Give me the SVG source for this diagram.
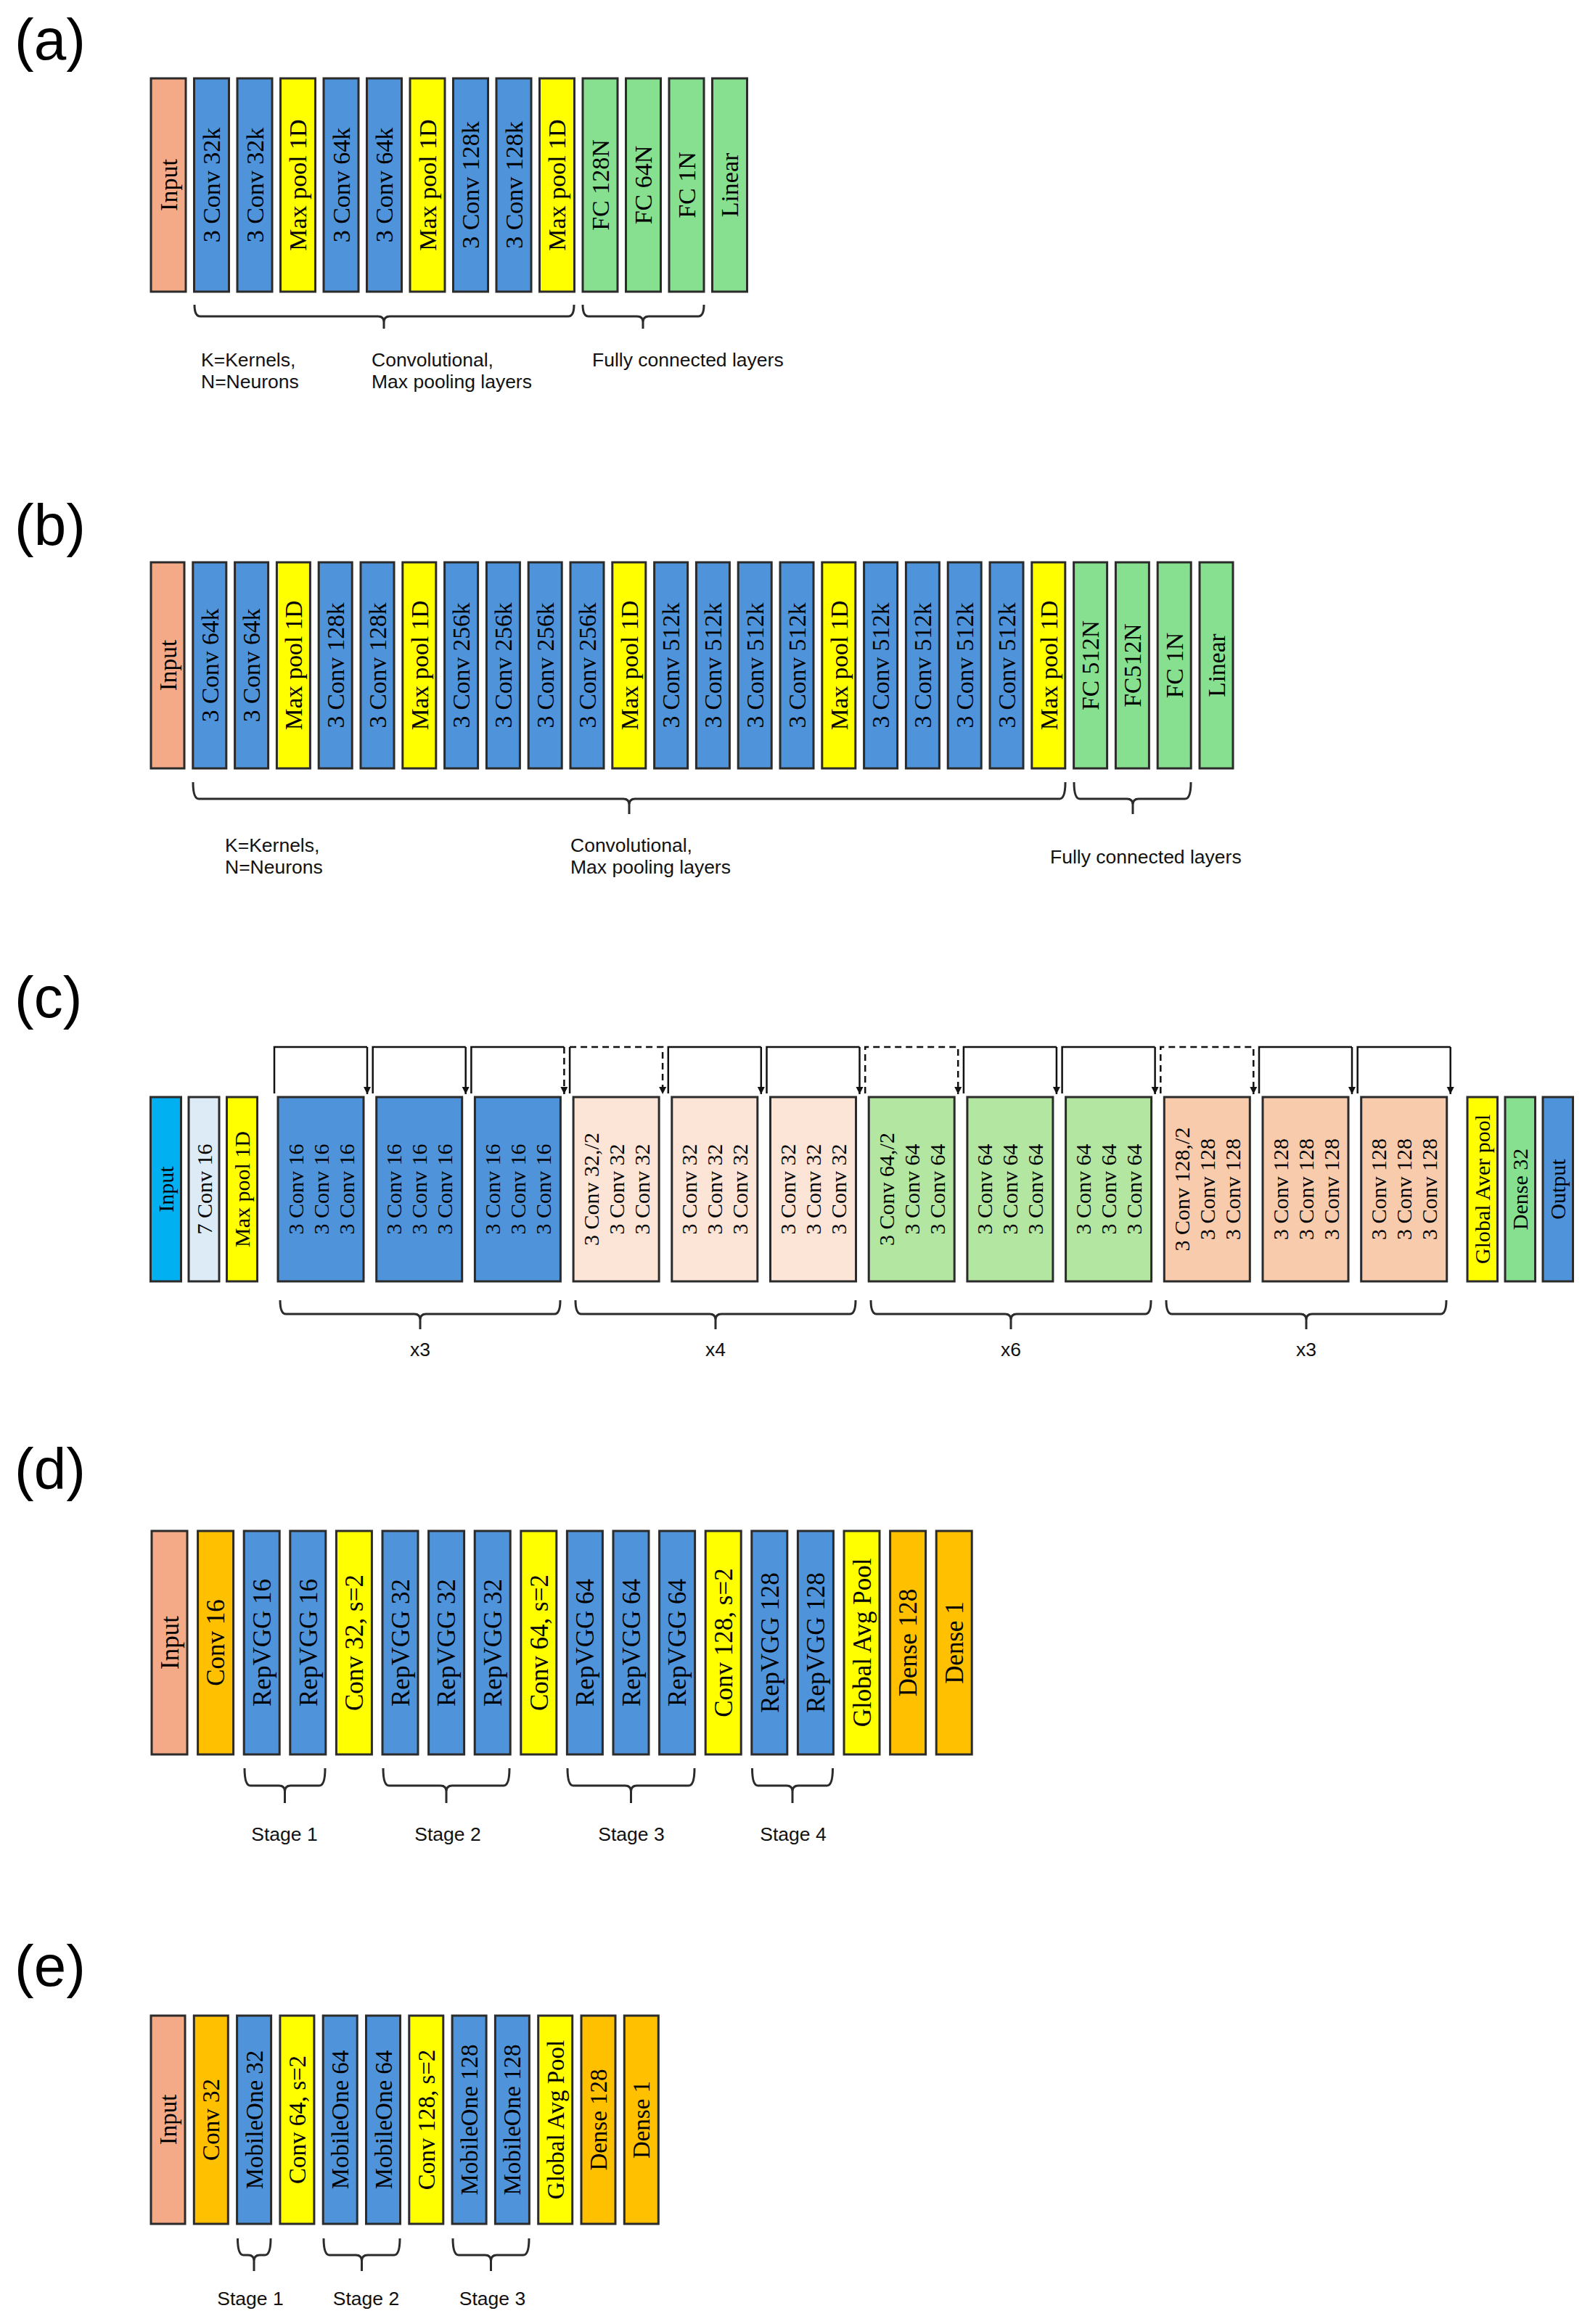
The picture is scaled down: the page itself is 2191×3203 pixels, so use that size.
<svg xmlns="http://www.w3.org/2000/svg" width="2191" height="3203" viewBox="0 0 2191 3203">
<style>
.bx{stroke:#2b2b2b;stroke-width:3}
.sal{fill:#F4A987}.blu{fill:#4F94DA}.yel{fill:#FFFF00}.grn{fill:#86E08F}.org{fill:#FFC000}
.cya{fill:#00B0F0}.lbl{fill:#DDEBF7}.pch{fill:#FCE4D6}.lgr{fill:#B3E6A1}.lsa{fill:#F8CBAD}
.t{font-family:"Liberation Serif","Times New Roman",serif;fill:#000;text-anchor:middle}
.ta{font-size:34px}.tb{font-size:33.5px}.tc{font-size:30px}.td{font-size:35px}.te{font-size:33px}
.ann{font-family:"Liberation Sans",Arial,sans-serif;font-size:26.5px;fill:#111}
.mid{text-anchor:middle}
.pl{font-family:"Liberation Sans",Arial,sans-serif;font-size:80px;fill:#000}
.br{fill:none;stroke:#2b2b2b;stroke-width:3}
.sk{fill:none;stroke:#111;stroke-width:2.5}
.ds{stroke-dasharray:9 6}
</style>
<defs>
<marker id="ah" markerUnits="userSpaceOnUse" markerWidth="11" markerHeight="11" refX="10" refY="5" orient="auto">
<path d="M0,0 L10,5 L0,10 z" fill="#111"/>
</marker>
</defs>

<!-- Panel labels -->
<text class="pl" x="20" y="82">(a)</text>
<text class="pl" x="20" y="751">(b)</text>
<text class="pl" x="20" y="1402">(c)</text>
<text class="pl" x="20" y="2052">(d)</text>
<text class="pl" x="20" y="2737">(e)</text>

<!-- ===== Panel (a) ===== -->
<g id="a-nodes">
<g id="a0"><rect class="bx sal" x="208" y="108" width="48" height="294"/><text class="t ta" transform="translate(232,255) rotate(-90)" dy="0.35em">Input</text></g>
<g id="a1"><rect class="bx blu" x="267.5" y="108" width="48" height="294"/><text class="t ta" transform="translate(291.5,255) rotate(-90)" dy="0.35em">3 Conv 32k</text></g>
<g id="a2"><rect class="bx blu" x="327" y="108" width="48" height="294"/><text class="t ta" transform="translate(351,255) rotate(-90)" dy="0.35em">3 Conv 32k</text></g>
<g id="a3"><rect class="bx yel" x="386.5" y="108" width="48" height="294"/><text class="t ta" transform="translate(410.5,255) rotate(-90)" dy="0.35em">Max pool 1D</text></g>
<g id="a4"><rect class="bx blu" x="446" y="108" width="48" height="294"/><text class="t ta" transform="translate(470,255) rotate(-90)" dy="0.35em">3 Conv 64k</text></g>
<g id="a5"><rect class="bx blu" x="505.5" y="108" width="48" height="294"/><text class="t ta" transform="translate(529.5,255) rotate(-90)" dy="0.35em">3 Conv 64k</text></g>
<g id="a6"><rect class="bx yel" x="565" y="108" width="48" height="294"/><text class="t ta" transform="translate(589,255) rotate(-90)" dy="0.35em">Max pool 1D</text></g>
<g id="a7"><rect class="bx blu" x="624.5" y="108" width="48" height="294"/><text class="t ta" transform="translate(648.5,255) rotate(-90)" dy="0.35em">3 Conv 128k</text></g>
<g id="a8"><rect class="bx blu" x="684" y="108" width="48" height="294"/><text class="t ta" transform="translate(708,255) rotate(-90)" dy="0.35em">3 Conv 128k</text></g>
<g id="a9"><rect class="bx yel" x="743.5" y="108" width="48" height="294"/><text class="t ta" transform="translate(767.5,255) rotate(-90)" dy="0.35em">Max pool 1D</text></g>
<g id="a10"><rect class="bx grn" x="803" y="108" width="48" height="294"/><text class="t ta" transform="translate(827,255) rotate(-90)" dy="0.35em">FC 128N</text></g>
<g id="a11"><rect class="bx grn" x="862.5" y="108" width="48" height="294"/><text class="t ta" transform="translate(886.5,255) rotate(-90)" dy="0.35em">FC 64N</text></g>
<g id="a12"><rect class="bx grn" x="922" y="108" width="48" height="294"/><text class="t ta" transform="translate(946,255) rotate(-90)" dy="0.35em">FC 1N</text></g>
<g id="a13"><rect class="bx grn" x="981.5" y="108" width="48" height="294"/><text class="t ta" transform="translate(1005.5,255) rotate(-90)" dy="0.35em">Linear</text></g>
</g>
<g id="a-connectors">
<path class="br" d="M268,420 Q268,436 276,436 L521,436 Q529,436 529,444 L529,453 M529,444 Q529,436 537,436 L783,436 Q791,436 791,420"/>
<path class="br" d="M803,420 Q803,436 811,436 L878,436 Q886,436 886,444 L886,453 M886,444 Q886,436 894,436 L962,436 Q970,436 970,420"/>
</g>
<g id="a-text">
<text class="ann" x="277" y="505">K=Kernels,</text>
<text class="ann" x="277" y="535">N=Neurons</text>
<text class="ann" x="512" y="505">Convolutional,</text>
<text class="ann" x="512" y="535">Max pooling layers</text>
<text class="ann" x="816" y="505">Fully connected layers</text>
</g>

<!-- ===== Panel (b) ===== -->
<g id="b-nodes">
<g id="b0"><rect class="bx sal" x="208" y="775" width="46" height="284"/><text class="t tb" transform="translate(231,917) rotate(-90)" dy="0.35em">Input</text></g>
<g id="b1"><rect class="bx blu" x="265.8" y="775" width="46" height="284"/><text class="t tb" transform="translate(288.8,917) rotate(-90)" dy="0.35em">3 Conv 64k</text></g>
<g id="b2"><rect class="bx blu" x="323.6" y="775" width="46" height="284"/><text class="t tb" transform="translate(346.6,917) rotate(-90)" dy="0.35em">3 Conv 64k</text></g>
<g id="b3"><rect class="bx yel" x="381.4" y="775" width="46" height="284"/><text class="t tb" transform="translate(404.4,917) rotate(-90)" dy="0.35em">Max pool 1D</text></g>
<g id="b4"><rect class="bx blu" x="439.2" y="775" width="46" height="284"/><text class="t tb" transform="translate(462.2,917) rotate(-90)" dy="0.35em">3 Conv 128k</text></g>
<g id="b5"><rect class="bx blu" x="497" y="775" width="46" height="284"/><text class="t tb" transform="translate(520,917) rotate(-90)" dy="0.35em">3 Conv 128k</text></g>
<g id="b6"><rect class="bx yel" x="554.8" y="775" width="46" height="284"/><text class="t tb" transform="translate(577.8,917) rotate(-90)" dy="0.35em">Max pool 1D</text></g>
<g id="b7"><rect class="bx blu" x="612.6" y="775" width="46" height="284"/><text class="t tb" transform="translate(635.6,917) rotate(-90)" dy="0.35em">3 Conv 256k</text></g>
<g id="b8"><rect class="bx blu" x="670.4" y="775" width="46" height="284"/><text class="t tb" transform="translate(693.4,917) rotate(-90)" dy="0.35em">3 Conv 256k</text></g>
<g id="b9"><rect class="bx blu" x="728.2" y="775" width="46" height="284"/><text class="t tb" transform="translate(751.2,917) rotate(-90)" dy="0.35em">3 Conv 256k</text></g>
<g id="b10"><rect class="bx blu" x="786" y="775" width="46" height="284"/><text class="t tb" transform="translate(809,917) rotate(-90)" dy="0.35em">3 Conv 256k</text></g>
<g id="b11"><rect class="bx yel" x="843.8" y="775" width="46" height="284"/><text class="t tb" transform="translate(866.8,917) rotate(-90)" dy="0.35em">Max pool 1D</text></g>
<g id="b12"><rect class="bx blu" x="901.6" y="775" width="46" height="284"/><text class="t tb" transform="translate(924.6,917) rotate(-90)" dy="0.35em">3 Conv 512k</text></g>
<g id="b13"><rect class="bx blu" x="959.4" y="775" width="46" height="284"/><text class="t tb" transform="translate(982.4,917) rotate(-90)" dy="0.35em">3 Conv 512k</text></g>
<g id="b14"><rect class="bx blu" x="1017.2" y="775" width="46" height="284"/><text class="t tb" transform="translate(1040.2,917) rotate(-90)" dy="0.35em">3 Conv 512k</text></g>
<g id="b15"><rect class="bx blu" x="1075" y="775" width="46" height="284"/><text class="t tb" transform="translate(1098,917) rotate(-90)" dy="0.35em">3 Conv 512k</text></g>
<g id="b16"><rect class="bx yel" x="1132.8" y="775" width="46" height="284"/><text class="t tb" transform="translate(1155.8,917) rotate(-90)" dy="0.35em">Max pool 1D</text></g>
<g id="b17"><rect class="bx blu" x="1190.6" y="775" width="46" height="284"/><text class="t tb" transform="translate(1213.6,917) rotate(-90)" dy="0.35em">3 Conv 512k</text></g>
<g id="b18"><rect class="bx blu" x="1248.4" y="775" width="46" height="284"/><text class="t tb" transform="translate(1271.4,917) rotate(-90)" dy="0.35em">3 Conv 512k</text></g>
<g id="b19"><rect class="bx blu" x="1306.2" y="775" width="46" height="284"/><text class="t tb" transform="translate(1329.2,917) rotate(-90)" dy="0.35em">3 Conv 512k</text></g>
<g id="b20"><rect class="bx blu" x="1364" y="775" width="46" height="284"/><text class="t tb" transform="translate(1387,917) rotate(-90)" dy="0.35em">3 Conv 512k</text></g>
<g id="b21"><rect class="bx yel" x="1421.8" y="775" width="46" height="284"/><text class="t tb" transform="translate(1444.8,917) rotate(-90)" dy="0.35em">Max pool 1D</text></g>
<g id="b22"><rect class="bx grn" x="1479.6" y="775" width="46" height="284"/><text class="t tb" transform="translate(1502.6,917) rotate(-90)" dy="0.35em">FC 512N</text></g>
<g id="b23"><rect class="bx grn" x="1537.4" y="775" width="46" height="284"/><text class="t tb" transform="translate(1560.4,917) rotate(-90)" dy="0.35em">FC512N</text></g>
<g id="b24"><rect class="bx grn" x="1595.2" y="775" width="46" height="284"/><text class="t tb" transform="translate(1618.2,917) rotate(-90)" dy="0.35em">FC 1N</text></g>
<g id="b25"><rect class="bx grn" x="1653" y="775" width="46" height="284"/><text class="t tb" transform="translate(1676,917) rotate(-90)" dy="0.35em">Linear</text></g>
</g>
<g id="b-connectors">
<path class="br" d="M266,1078 Q266,1101 274,1101 L859,1101 Q867,1101 867,1109 L867,1122 M867,1109 Q867,1101 875,1101 L1460,1101 Q1468,1101 1468,1078"/>
<path class="br" d="M1480,1078 Q1480,1101 1488,1101 L1553,1101 Q1561,1101 1561,1109 L1561,1122 M1561,1109 Q1561,1101 1569,1101 L1633,1101 Q1641,1101 1641,1078"/>
</g>
<g id="b-text">
<text class="ann" x="310" y="1174">K=Kernels,</text>
<text class="ann" x="310" y="1204">N=Neurons</text>
<text class="ann" x="786" y="1174">Convolutional,</text>
<text class="ann" x="786" y="1204">Max pooling layers</text>
<text class="ann" x="1447" y="1190">Fully connected layers</text>
</g>

<!-- ===== Panel (c) ===== -->
<g id="c-nodes">
<g id="c-in"><rect class="bx cya" x="207.5" y="1512" width="42" height="254"/><text class="t tc" transform="translate(228.5,1639) rotate(-90)" dy="0.35em">Input</text></g>
<g id="c-conv7"><rect class="bx lbl" x="260" y="1512" width="42" height="254"/><text class="t tc" transform="translate(281,1639) rotate(-90)" dy="0.35em">7 Conv 16</text></g>
<g id="c-pool"><rect class="bx yel" x="312.5" y="1512" width="42" height="254"/><text class="t tc" transform="translate(333.5,1639) rotate(-90)" dy="0.35em">Max pool 1D</text></g>

<g id="c0"><rect class="bx blu" x="383" y="1512" width="118" height="254"/><text class="t tc" transform="translate(442,1639) rotate(-90)"><tspan x="0" y="-35" dy="0.35em">3 Conv 16</tspan><tspan x="0" y="0" dy="0.35em">3 Conv 16</tspan><tspan x="0" y="35" dy="0.35em">3 Conv 16</tspan></text></g>
<g id="c1"><rect class="bx blu" x="518.7" y="1512" width="118" height="254"/><text class="t tc" transform="translate(577.7,1639) rotate(-90)"><tspan x="0" y="-35" dy="0.35em">3 Conv 16</tspan><tspan x="0" y="0" dy="0.35em">3 Conv 16</tspan><tspan x="0" y="35" dy="0.35em">3 Conv 16</tspan></text></g>
<g id="c2"><rect class="bx blu" x="654.4" y="1512" width="118" height="254"/><text class="t tc" transform="translate(713.4,1639) rotate(-90)"><tspan x="0" y="-35" dy="0.35em">3 Conv 16</tspan><tspan x="0" y="0" dy="0.35em">3 Conv 16</tspan><tspan x="0" y="35" dy="0.35em">3 Conv 16</tspan></text></g>
<g id="c3"><rect class="bx pch" x="790.1" y="1512" width="118" height="254"/><text class="t tc" transform="translate(849.1,1639) rotate(-90)"><tspan x="0" y="-35" dy="0.35em">3 Conv 32,/2</tspan><tspan x="0" y="0" dy="0.35em">3 Conv 32</tspan><tspan x="0" y="35" dy="0.35em">3 Conv 32</tspan></text></g>
<g id="c4"><rect class="bx pch" x="925.8" y="1512" width="118" height="254"/><text class="t tc" transform="translate(984.8,1639) rotate(-90)"><tspan x="0" y="-35" dy="0.35em">3 Conv 32</tspan><tspan x="0" y="0" dy="0.35em">3 Conv 32</tspan><tspan x="0" y="35" dy="0.35em">3 Conv 32</tspan></text></g>
<g id="c5"><rect class="bx pch" x="1061.5" y="1512" width="118" height="254"/><text class="t tc" transform="translate(1120.5,1639) rotate(-90)"><tspan x="0" y="-35" dy="0.35em">3 Conv 32</tspan><tspan x="0" y="0" dy="0.35em">3 Conv 32</tspan><tspan x="0" y="35" dy="0.35em">3 Conv 32</tspan></text></g>
<g id="c6"><rect class="bx lgr" x="1197.2" y="1512" width="118" height="254"/><text class="t tc" transform="translate(1256.2,1639) rotate(-90)"><tspan x="0" y="-35" dy="0.35em">3 Conv 64,/2</tspan><tspan x="0" y="0" dy="0.35em">3 Conv 64</tspan><tspan x="0" y="35" dy="0.35em">3 Conv 64</tspan></text></g>
<g id="c7"><rect class="bx lgr" x="1332.9" y="1512" width="118" height="254"/><text class="t tc" transform="translate(1391.9,1639) rotate(-90)"><tspan x="0" y="-35" dy="0.35em">3 Conv 64</tspan><tspan x="0" y="0" dy="0.35em">3 Conv 64</tspan><tspan x="0" y="35" dy="0.35em">3 Conv 64</tspan></text></g>
<g id="c8"><rect class="bx lgr" x="1468.6" y="1512" width="118" height="254"/><text class="t tc" transform="translate(1527.6,1639) rotate(-90)"><tspan x="0" y="-35" dy="0.35em">3 Conv 64</tspan><tspan x="0" y="0" dy="0.35em">3 Conv 64</tspan><tspan x="0" y="35" dy="0.35em">3 Conv 64</tspan></text></g>
<g id="c9"><rect class="bx lsa" x="1604.3" y="1512" width="118" height="254"/><text class="t tc" transform="translate(1663.3,1639) rotate(-90)"><tspan x="0" y="-35" dy="0.35em">3 Conv 128,/2</tspan><tspan x="0" y="0" dy="0.35em">3 Conv 128</tspan><tspan x="0" y="35" dy="0.35em">3 Conv 128</tspan></text></g>
<g id="c10"><rect class="bx lsa" x="1740" y="1512" width="118" height="254"/><text class="t tc" transform="translate(1799,1639) rotate(-90)"><tspan x="0" y="-35" dy="0.35em">3 Conv 128</tspan><tspan x="0" y="0" dy="0.35em">3 Conv 128</tspan><tspan x="0" y="35" dy="0.35em">3 Conv 128</tspan></text></g>
<g id="c11"><rect class="bx lsa" x="1875.7" y="1512" width="118" height="254"/><text class="t tc" transform="translate(1934.7,1639) rotate(-90)"><tspan x="0" y="-35" dy="0.35em">3 Conv 128</tspan><tspan x="0" y="0" dy="0.35em">3 Conv 128</tspan><tspan x="0" y="35" dy="0.35em">3 Conv 128</tspan></text></g>

<g id="c-gap"><rect class="bx yel" x="2022" y="1512" width="41.5" height="254"/><text class="t tc" transform="translate(2042.75,1639) rotate(-90)" dy="0.35em">Global Aver pool</text></g>
<g id="c-dense"><rect class="bx grn" x="2074" y="1512" width="41.5" height="254"/><text class="t tc" transform="translate(2094.75,1639) rotate(-90)" dy="0.35em">Dense 32</text></g>
<g id="c-out"><rect class="bx blu" x="2126" y="1512" width="41.5" height="254"/><text class="t tc" transform="translate(2146.75,1639) rotate(-90)" dy="0.35em">Output</text></g>
</g>
<g id="c-connectors">
<path class="sk" d="M378,1507 V1443 H506"/><path class="sk" d="M506,1443 V1508" marker-end="url(#ah)"/>
<path class="sk" d="M513.7,1507 V1443 H641.7"/><path class="sk" d="M641.7,1443 V1508" marker-end="url(#ah)"/>
<path class="sk" d="M649.4,1507 V1443 H777.4"/><path class="sk ds" d="M777.4,1443 V1508" marker-end="url(#ah)"/>
<path class="sk" d="M785.1,1507 V1443"/><path class="sk ds" d="M785.1,1443 H913.1 V1508" marker-end="url(#ah)"/>
<path class="sk" d="M920.8,1507 V1443 H1048.8"/><path class="sk" d="M1048.8,1443 V1508" marker-end="url(#ah)"/>
<path class="sk" d="M1056.5,1507 V1443 H1184.5"/><path class="sk" d="M1184.5,1443 V1508" marker-end="url(#ah)"/>
<path class="sk ds" d="M1192.2,1507 V1443 H1320.2 V1508" marker-end="url(#ah)"/>
<path class="sk" d="M1327.9,1507 V1443 H1455.9"/><path class="sk" d="M1455.9,1443 V1508" marker-end="url(#ah)"/>
<path class="sk" d="M1463.6,1507 V1443 H1591.6"/><path class="sk" d="M1591.6,1443 V1508" marker-end="url(#ah)"/>
<path class="sk ds" d="M1599.3,1507 V1443 H1727.3 V1508" marker-end="url(#ah)"/>
<path class="sk" d="M1735,1507 V1443 H1863"/><path class="sk" d="M1863,1443 V1508" marker-end="url(#ah)"/>
<path class="sk" d="M1870.7,1507 V1443 H1998.7"/><path class="sk" d="M1998.7,1443 V1508" marker-end="url(#ah)"/>
<path class="br" d="M386,1792 Q386,1811 394,1811 L571,1811 Q579,1811 579,1819 L579,1832 M579,1819 Q579,1811 587,1811 L764,1811 Q772,1811 772,1792"/>
<path class="br" d="M793,1792 Q793,1811 801,1811 L978,1811 Q986,1811 986,1819 L986,1832 M986,1819 Q986,1811 994,1811 L1171,1811 Q1179,1811 1179,1792"/>
<path class="br" d="M1200,1792 Q1200,1811 1208,1811 L1385,1811 Q1393,1811 1393,1819 L1393,1832 M1393,1819 Q1393,1811 1401,1811 L1578,1811 Q1586,1811 1586,1792"/>
<path class="br" d="M1607,1792 Q1607,1811 1615,1811 L1792,1811 Q1800,1811 1800,1819 L1800,1832 M1800,1819 Q1800,1811 1808,1811 L1985,1811 Q1993,1811 1993,1792"/>
</g>
<g id="c-text">
<text class="ann mid" x="579" y="1869">x3</text>
<text class="ann mid" x="986" y="1869">x4</text>
<text class="ann mid" x="1393" y="1869">x6</text>
<text class="ann mid" x="1800" y="1869">x3</text>
</g>

<!-- ===== Panel (d) ===== -->
<g id="d-nodes">
<g id="d0"><rect class="bx sal" x="209" y="2110" width="49" height="308"/><text class="t td" transform="translate(233.5,2264) rotate(-90)" dy="0.35em">Input</text></g>
<g id="d1"><rect class="bx org" x="272.6" y="2110" width="49" height="308"/><text class="t td" transform="translate(297.1,2264) rotate(-90)" dy="0.35em">Conv 16</text></g>
<g id="d2"><rect class="bx blu" x="336.2" y="2110" width="49" height="308"/><text class="t td" transform="translate(360.7,2264) rotate(-90)" dy="0.35em">RepVGG 16</text></g>
<g id="d3"><rect class="bx blu" x="399.8" y="2110" width="49" height="308"/><text class="t td" transform="translate(424.3,2264) rotate(-90)" dy="0.35em">RepVGG 16</text></g>
<g id="d4"><rect class="bx yel" x="463.4" y="2110" width="49" height="308"/><text class="t td" transform="translate(487.9,2264) rotate(-90)" dy="0.35em">Conv 32, s=2</text></g>
<g id="d5"><rect class="bx blu" x="527" y="2110" width="49" height="308"/><text class="t td" transform="translate(551.5,2264) rotate(-90)" dy="0.35em">RepVGG 32</text></g>
<g id="d6"><rect class="bx blu" x="590.6" y="2110" width="49" height="308"/><text class="t td" transform="translate(615.1,2264) rotate(-90)" dy="0.35em">RepVGG 32</text></g>
<g id="d7"><rect class="bx blu" x="654.2" y="2110" width="49" height="308"/><text class="t td" transform="translate(678.7,2264) rotate(-90)" dy="0.35em">RepVGG 32</text></g>
<g id="d8"><rect class="bx yel" x="717.8" y="2110" width="49" height="308"/><text class="t td" transform="translate(742.3,2264) rotate(-90)" dy="0.35em">Conv 64, s=2</text></g>
<g id="d9"><rect class="bx blu" x="781.4" y="2110" width="49" height="308"/><text class="t td" transform="translate(805.9,2264) rotate(-90)" dy="0.35em">RepVGG 64</text></g>
<g id="d10"><rect class="bx blu" x="845" y="2110" width="49" height="308"/><text class="t td" transform="translate(869.5,2264) rotate(-90)" dy="0.35em">RepVGG 64</text></g>
<g id="d11"><rect class="bx blu" x="908.6" y="2110" width="49" height="308"/><text class="t td" transform="translate(933.1,2264) rotate(-90)" dy="0.35em">RepVGG 64</text></g>
<g id="d12"><rect class="bx yel" x="972.2" y="2110" width="49" height="308"/><text class="t td" transform="translate(996.7,2264) rotate(-90)" dy="0.35em">Conv 128, s=2</text></g>
<g id="d13"><rect class="bx blu" x="1035.8" y="2110" width="49" height="308"/><text class="t td" transform="translate(1060.3,2264) rotate(-90)" dy="0.35em">RepVGG 128</text></g>
<g id="d14"><rect class="bx blu" x="1099.4" y="2110" width="49" height="308"/><text class="t td" transform="translate(1123.9,2264) rotate(-90)" dy="0.35em">RepVGG 128</text></g>
<g id="d15"><rect class="bx yel" x="1163" y="2110" width="49" height="308"/><text class="t td" transform="translate(1187.5,2264) rotate(-90)" dy="0.35em">Global Avg Pool</text></g>
<g id="d16"><rect class="bx org" x="1226.6" y="2110" width="49" height="308"/><text class="t td" transform="translate(1251.1,2264) rotate(-90)" dy="0.35em">Dense 128</text></g>
<g id="d17"><rect class="bx org" x="1290.2" y="2110" width="49" height="308"/><text class="t td" transform="translate(1314.7,2264) rotate(-90)" dy="0.35em">Dense 1</text></g>
</g>
<g id="d-connectors">
<path class="br" d="M337,2437 Q337,2461 345,2461 L384.5,2461 Q392.5,2461 392.5,2469 L392.5,2485 M392.5,2469 Q392.5,2461 400.5,2461 L440,2461 Q448,2461 448,2437"/>
<path class="br" d="M528,2437 Q528,2461 536,2461 L607,2461 Q615,2461 615,2469 L615,2485 M615,2469 Q615,2461 623,2461 L694,2461 Q702,2461 702,2437"/>
<path class="br" d="M782,2437 Q782,2461 790,2461 L861.5,2461 Q869.5,2461 869.5,2469 L869.5,2485 M869.5,2469 Q869.5,2461 877.5,2461 L949,2461 Q957,2461 957,2437"/>
<path class="br" d="M1036.5,2437 Q1036.5,2461 1044.5,2461 L1084,2461 Q1092,2461 1092,2469 L1092,2485 M1092,2469 Q1092,2461 1100,2461 L1139.5,2461 Q1147.5,2461 1147.5,2437"/>
</g>
<g id="d-text">
<text class="ann mid" x="392" y="2537">Stage 1</text>
<text class="ann mid" x="617" y="2537">Stage 2</text>
<text class="ann mid" x="870" y="2537">Stage 3</text>
<text class="ann mid" x="1093" y="2537">Stage 4</text>
</g>

<!-- ===== Panel (e) ===== -->
<g id="e-nodes">
<g id="e0"><rect class="bx sal" x="208" y="2778" width="47" height="287"/><text class="t te" transform="translate(231.5,2921.5) rotate(-90)" dy="0.35em">Input</text></g>
<g id="e1"><rect class="bx org" x="267.3" y="2778" width="47" height="287"/><text class="t te" transform="translate(290.8,2921.5) rotate(-90)" dy="0.35em">Conv 32</text></g>
<g id="e2"><rect class="bx blu" x="326.6" y="2778" width="47" height="287"/><text class="t te" transform="translate(350.1,2921.5) rotate(-90)" dy="0.35em">MobileOne 32</text></g>
<g id="e3"><rect class="bx yel" x="385.9" y="2778" width="47" height="287"/><text class="t te" transform="translate(409.4,2921.5) rotate(-90)" dy="0.35em">Conv 64, s=2</text></g>
<g id="e4"><rect class="bx blu" x="445.2" y="2778" width="47" height="287"/><text class="t te" transform="translate(468.7,2921.5) rotate(-90)" dy="0.35em">MobileOne 64</text></g>
<g id="e5"><rect class="bx blu" x="504.5" y="2778" width="47" height="287"/><text class="t te" transform="translate(528,2921.5) rotate(-90)" dy="0.35em">MobileOne 64</text></g>
<g id="e6"><rect class="bx yel" x="563.8" y="2778" width="47" height="287"/><text class="t te" transform="translate(587.3,2921.5) rotate(-90)" dy="0.35em">Conv 128, s=2</text></g>
<g id="e7"><rect class="bx blu" x="623.1" y="2778" width="47" height="287"/><text class="t te" transform="translate(646.6,2921.5) rotate(-90)" dy="0.35em">MobileOne 128</text></g>
<g id="e8"><rect class="bx blu" x="682.4" y="2778" width="47" height="287"/><text class="t te" transform="translate(705.9,2921.5) rotate(-90)" dy="0.35em">MobileOne 128</text></g>
<g id="e9"><rect class="bx yel" x="741.7" y="2778" width="47" height="287"/><text class="t te" transform="translate(765.2,2921.5) rotate(-90)" dy="0.35em">Global Avg Pool</text></g>
<g id="e10"><rect class="bx org" x="801" y="2778" width="47" height="287"/><text class="t te" transform="translate(824.5,2921.5) rotate(-90)" dy="0.35em">Dense 128</text></g>
<g id="e11"><rect class="bx org" x="860.3" y="2778" width="47" height="287"/><text class="t te" transform="translate(883.8,2921.5) rotate(-90)" dy="0.35em">Dense 1</text></g>
</g>
<g id="e-connectors">
<path class="br" d="M327.5,3085 Q327.5,3108 335.5,3108 L342,3108 Q350,3108 350,3116 L350,3130 M350,3116 Q350,3108 358,3108 L365,3108 Q373,3108 373,3085"/>
<path class="br" d="M446,3085 Q446,3108 454,3108 L490.5,3108 Q498.5,3108 498.5,3116 L498.5,3130 M498.5,3116 Q498.5,3108 506.5,3108 L543,3108 Q551,3108 551,3085"/>
<path class="br" d="M624,3085 Q624,3108 632,3108 L668.5,3108 Q676.5,3108 676.5,3116 L676.5,3130 M676.5,3116 Q676.5,3108 684.5,3108 L721,3108 Q729,3108 729,3085"/>
</g>
<g id="e-text">
<text class="ann mid" x="345" y="3177">Stage 1</text>
<text class="ann mid" x="504.5" y="3177">Stage 2</text>
<text class="ann mid" x="678.5" y="3177">Stage 3</text>
</g>
</svg>
